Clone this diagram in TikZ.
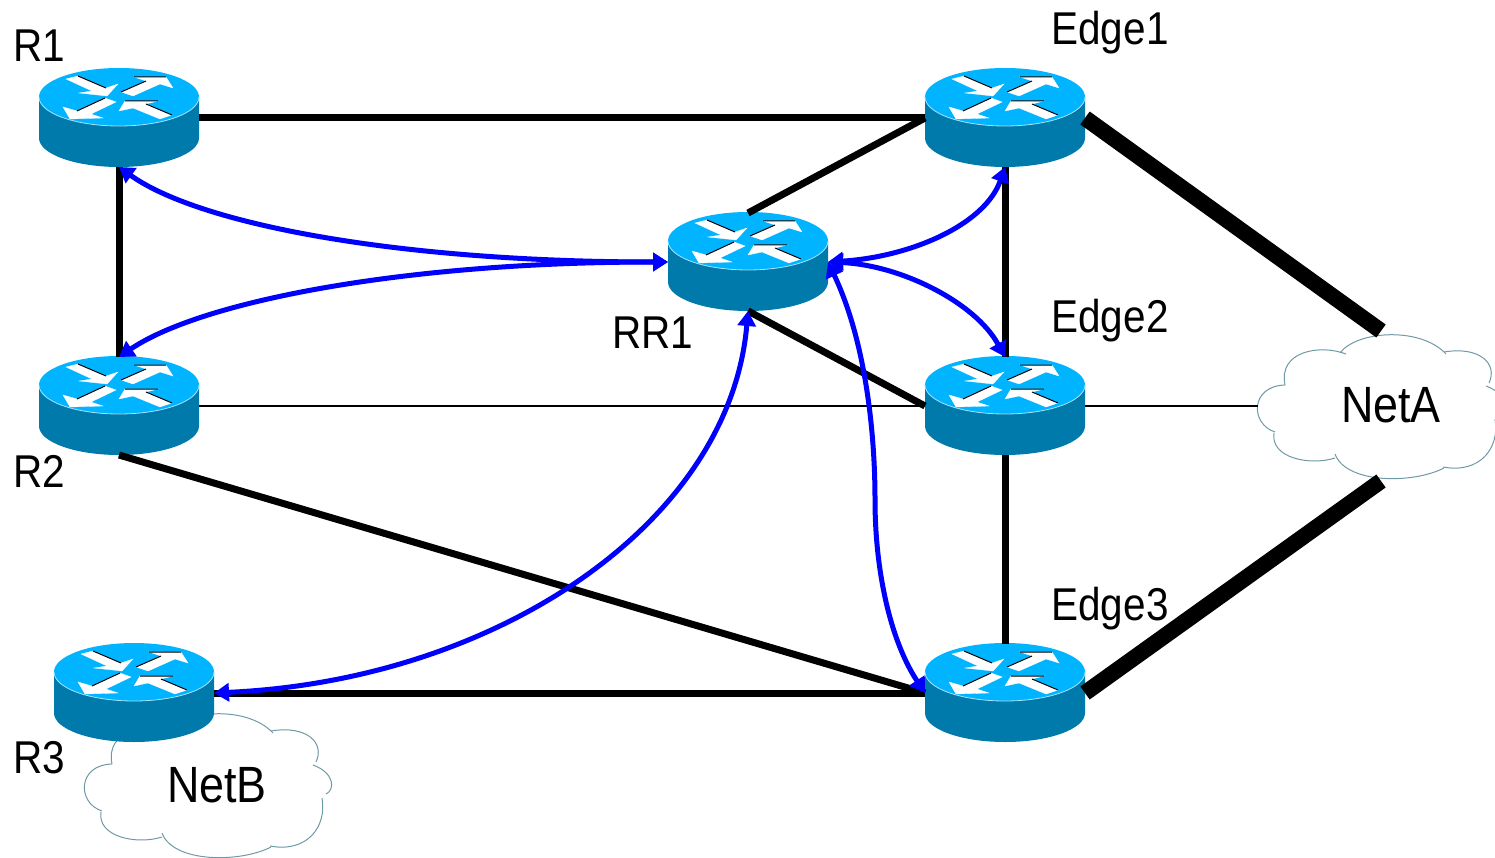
\documentclass[tikz,border=0pt]{standalone}
\usepackage{fontspec}
\setmainfont{Liberation Sans}[FakeStretch=0.88]
\usetikzlibrary{arrows.meta}
\definecolor{routertop}{HTML}{00B4FF}
\definecolor{routerside}{HTML}{0079AB}
\definecolor{routerrim}{HTML}{A6E3FF}
\definecolor{cloudline}{HTML}{6F9AA5}

% un routeur : noeud invisible + dessin autour
\newcommand{\router}[2]{%
  \node[routerbox] (#1) at (#2) {};
  \begin{scope}[shift={(#1)}]
    \fill[routerside] (-80,-21) -- (-80,20) arc[start angle=180,end angle=0,x radius=80,y radius=29] -- (80,-21) -- cycle;
    \fill[routertop] (0,-21) ellipse[x radius=80,y radius=29];
    \draw[routerrim,line width=0.8pt] (-80,-21) arc[start angle=180,end angle=0,x radius=80,y radius=29];
    \filldraw[routerarrow] (-53,-39) -- (-41,-42) -- (-13,-30) -- (-1,-34) -- (-12,-22) -- (-40,-25) -- (-27,-27) -- cycle;
    \filldraw[routerarrow] (2,-26) -- (27,-37) -- (15,-41) -- (47,-41) -- (54,-30) -- (41,-34) -- (14,-22) -- cycle;
    \filldraw[routerarrow] (-3,-16) -- (-14,-20) -- (-42,-7) -- (-56,-11) -- (-49,1) -- (-16,0) -- (-28,-4) -- cycle;
    \filldraw[routerarrow] (0,-7) -- (6,-17) -- (39,-17) -- (27,-14) -- (53,-3) -- (41,1) -- (14,-10) -- cycle;
    \draw[black,line width=1pt] (-41,-42) -- (-13,-30);
    \draw[black,line width=1pt] (2,-26) -- (27,-37) (15,-41) -- (47,-41);
    \draw[black,line width=1pt] (-14,-20) -- (-42,-7);
    \draw[black,line width=1pt] (6,-17) -- (39,-17) (27,-14) -- (53,-3);
  \end{scope}
}
% un nuage : arcs ouverts autour du noeud
\newcommand{\netcloud}[2]{%
  \node[cloudbox] (#1) at (#2) {};
  \begin{scope}[shift={(#1)}]
    \draw[cloudstroke] (-106,26) .. controls (-131,18) and (-131,-20) .. (-96,-21);
    \draw[cloudstroke] (-96,-21) .. controls (-103,-55) and (-61,-62) .. (-35,-52);
    \draw[cloudstroke] (-41,-53) .. controls (-25,-75) and (39,-80) .. (65,-52);
    \draw[cloudstroke] (63,-54) .. controls (99,-60) and (117,-42) .. (108,-23);
    \draw[cloudstroke] (105,-20) .. controls (127,-12) and (127,5) .. (118,9);
    \draw[cloudstroke] (114,13) .. controls (119,42) and (99,68) .. (62,61);
    \draw[cloudstroke] (63,62) .. controls (32,78) and (-35,78) .. (-46,48);
    \draw[cloudstroke] (-46,52) .. controls (-71,60) and (-111,52) .. (-107,27);
  \end{scope}
}

\begin{document}
\begin{tikzpicture}[x=1pt,y=-1pt]
% styles
\tikzset{
  routerbox/.style={rectangle,minimum width=160pt,minimum height=98pt,inner sep=0pt,outer sep=0pt},
  routerarrow/.style={fill=white,draw=white,line width=0.3pt},
  cloudbox/.style={rectangle,minimum width=246pt,minimum height=150pt,inner sep=0pt,outer sep=0pt},
  cloudstroke/.style={cloudline,line width=1pt},
  netlabel/.style={inner sep=0pt,font=\fontsize{46}{52}\selectfont},
  netbig/.style={inner sep=0pt,font=\fontsize{51}{57}\selectfont},
  link/.style={black,line width=7pt},
  thinlink/.style={black,line width=1.4pt},
  fatlink/.style={black,line width=16pt},
  session/.style={blue,line width=5pt,{Triangle[length=15pt,width=18pt]}-{Triangle[length=15pt,width=18pt]}}
}
\useasboundingbox (0,0) rectangle (1495,858);
% nuages
\netcloud{NetA}{1381,406}
\netcloud{NetB}{208,785}
% routeurs
\router{R1}{119,118}
\router{Edge1}{1005,118}
\router{RR1}{748,262}
\router{R2}{119,406}
\router{Edge2}{1005,406}
\router{R3}{134,693}
\router{Edge3}{1005,693}
% textes
\node[netlabel] (labelR1) at (39,46) {R1};
\node[netlabel] (labelEdge1) at (1110,33) {Edge1};
\node[netlabel] (labelRR1) at (653,333) {RR1};
\node[netlabel] (labelR2) at (39,471) {R2};
\node[netlabel] (labelEdge2) at (1110,321) {Edge2};
\node[netlabel] (labelEdge3) at (1110,609) {Edge3};
\node[netlabel] (labelR3) at (39,758) {R3};
\node[netbig] (labelNetA) at (1391,405) {NetA};
\node[netbig] (labelNetB) at (217,785) {NetB};
% liens
\draw[link] (R1.east) -- (Edge1.west);
\draw[link] (R1.south) -- (R2.north);
\draw[link] (R3.east) -- (Edge3.west);
\draw[link] (R2.south) -- (Edge3.west);
\draw[link] (RR1.north) -- (Edge1.west);
\draw[link] (RR1.south) -- (Edge2.west);
\draw[link] (Edge1.south) -- (Edge2.north);
\draw[link] (Edge2.south) -- (Edge3.north);
\draw[thinlink] (R2.east) -- (Edge2.west);
\draw[thinlink] (Edge2.east) -- (NetA.west);
\draw[fatlink] (Edge1.east) -- (NetA.north);
\draw[fatlink] (Edge3.east) -- (NetA.south);
% sessions
\coordinate (bendRR1) at (875,500);
\draw[session] (RR1.west) .. controls +(-267,0) and +(81,58) .. (R1.south);
\draw[session] (RR1.west) .. controls +(-267,0) and +(81,-55) .. (R2.north);
\draw[session] (Edge1.south) .. controls +(-20,58) and +(82,-5) .. (RR1.east);
\draw[session] (RR1.east) .. controls +(72,3) and +(-30,-55) .. (Edge2.north);
\draw[session] (RR1.south) .. controls +(-18,210) and +(286,-13) .. (R3.east);
\draw[session] (RR1.east) .. controls +(37,78) and +(0,-70) .. (bendRR1) .. controls +(0,70) and +(-35,-53) .. (Edge3.west);
\end{tikzpicture}
\end{document}
